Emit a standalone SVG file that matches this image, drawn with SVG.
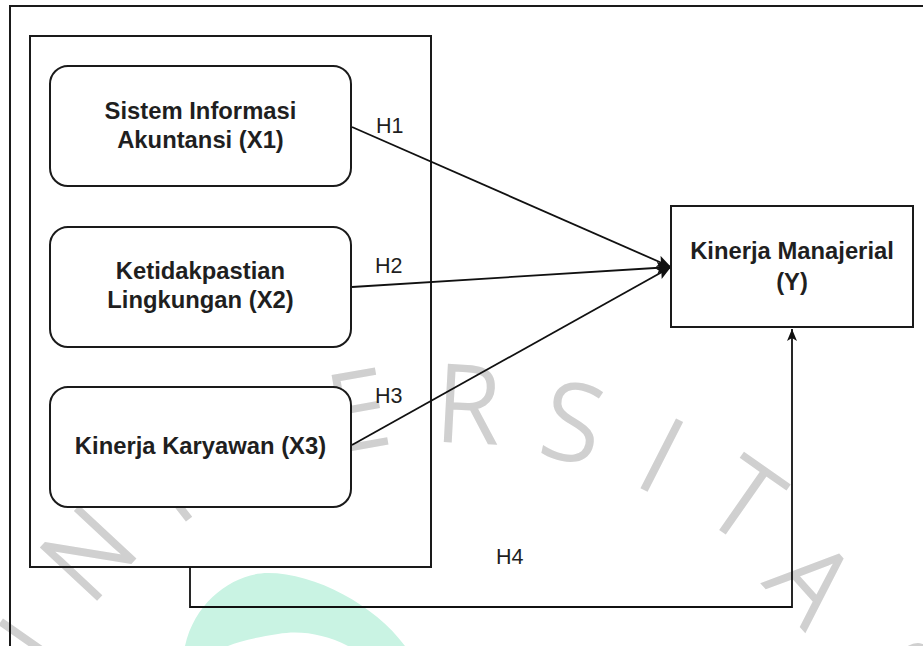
<svg xmlns="http://www.w3.org/2000/svg" width="923" height="646" viewBox="0 0 923 646">
<style>
.box{fill:#fff;stroke:#1a1a1a;stroke-width:2}
.frame{fill:none;stroke:#1a1a1a;stroke-width:2}
.lbl{font-family:"Liberation Sans",Arial,sans-serif;font-weight:bold;font-size:23.8px;fill:#1f1f1f;text-anchor:middle}
.h{font-family:"Liberation Sans",Arial,sans-serif;font-size:21.5px;fill:#1f1f1f}
.edge{fill:none;stroke:#111;stroke-width:1.8}
.wm{font-family:"Open Sans","Liberation Sans",sans-serif;font-weight:300;font-size:106px;fill:#d0d0d0;stroke:#d0d0d0;stroke-width:2.6;text-anchor:middle}
</style>
<defs>
<marker id="arr" markerWidth="16" markerHeight="14" refX="14" refY="6" orient="auto" markerUnits="userSpaceOnUse">
<path d="M0,0 L14,6 L0,12 L3,6 z" fill="#111"/>
</marker>
<marker id="arr2" markerWidth="14" markerHeight="12" refX="12" refY="5" orient="auto" markerUnits="userSpaceOnUse">
<path d="M0,0 L12,5 L0,10 L3,5 z" fill="#111"/>
</marker>
</defs>
<rect width="923" height="646" fill="#fff"/>
<g id="watermark">
<path d="M185 646 C195 600 235 573 268 573 C315 573 375 605 405 646 L348 646 C325 634 300 630 278 634 C258 637 240 641 228 646 Z" fill="#c9f3e3"/>
<text class="wm" transform="translate(18,665) rotate(-55)" y="38">U</text>
<text class="wm" transform="translate(88,553) rotate(-47)" y="38">N</text>
<text class="wm" transform="translate(165,488) rotate(-38)" y="38">I</text>
<text class="wm" transform="translate(262,440) rotate(-25)" y="38">V</text>
<text class="wm" transform="translate(358,410) rotate(-10)" y="38">E</text>
<text class="wm" transform="translate(468,404) rotate(3)" y="38">R</text>
<text class="wm" transform="translate(573,422) rotate(12)" y="38">S</text>
<text class="wm" transform="translate(662,455) rotate(27)" y="38">I</text>
<text class="wm" transform="translate(745,500) rotate(35)" y="38">T</text>
<text class="wm" transform="translate(812,582) rotate(48)" y="38">A</text>
<text class="wm" transform="translate(903,676) rotate(60)" y="38">S</text>
</g>
<g id="outer-frame">
<path class="frame" d="M10 646 V6 H923"/>
</g>
<g id="group-x">
<rect class="frame" x="30" y="36" width="401" height="531"/>
</g>
<g id="connectors">
<line class="edge" x1="352" y1="127" x2="671" y2="267" marker-end="url(#arr)"/>
<line class="edge" x1="352" y1="287" x2="671" y2="267" marker-end="url(#arr)"/>
<line class="edge" x1="352" y1="445" x2="671" y2="267" marker-end="url(#arr)"/>
<path class="edge" d="M190 567 V607 H792 V329" marker-end="url(#arr2)"/>
<text class="h" x="376" y="133">H1</text>
<text class="h" x="375" y="273">H2</text>
<text class="h" x="375" y="403">H3</text>
<text class="h" x="496" y="564">H4</text>
</g>
<g id="x1">
<rect class="box" x="50" y="66" width="301" height="120" rx="18"/>
<text class="lbl" x="200.5" y="119">Sistem Informasi</text>
<text class="lbl" x="200.5" y="148">Akuntansi (X1)</text>
</g>
<g id="x2">
<rect class="box" x="50" y="227" width="301" height="120" rx="18"/>
<text class="lbl" x="200.5" y="279">Ketidakpastian</text>
<text class="lbl" x="200.5" y="308">Lingkungan (X2)</text>
</g>
<g id="x3">
<rect class="box" x="50" y="387" width="301" height="120" rx="18"/>
<text class="lbl" x="200.5" y="454">Kinerja Karyawan (X3)</text>
</g>
<g id="y">
<rect class="box" x="671" y="206" width="242" height="121"/>
<text class="lbl" x="792" y="259">Kinerja Manajerial</text>
<text class="lbl" x="792" y="290">(Y)</text>
</g>
</svg>
